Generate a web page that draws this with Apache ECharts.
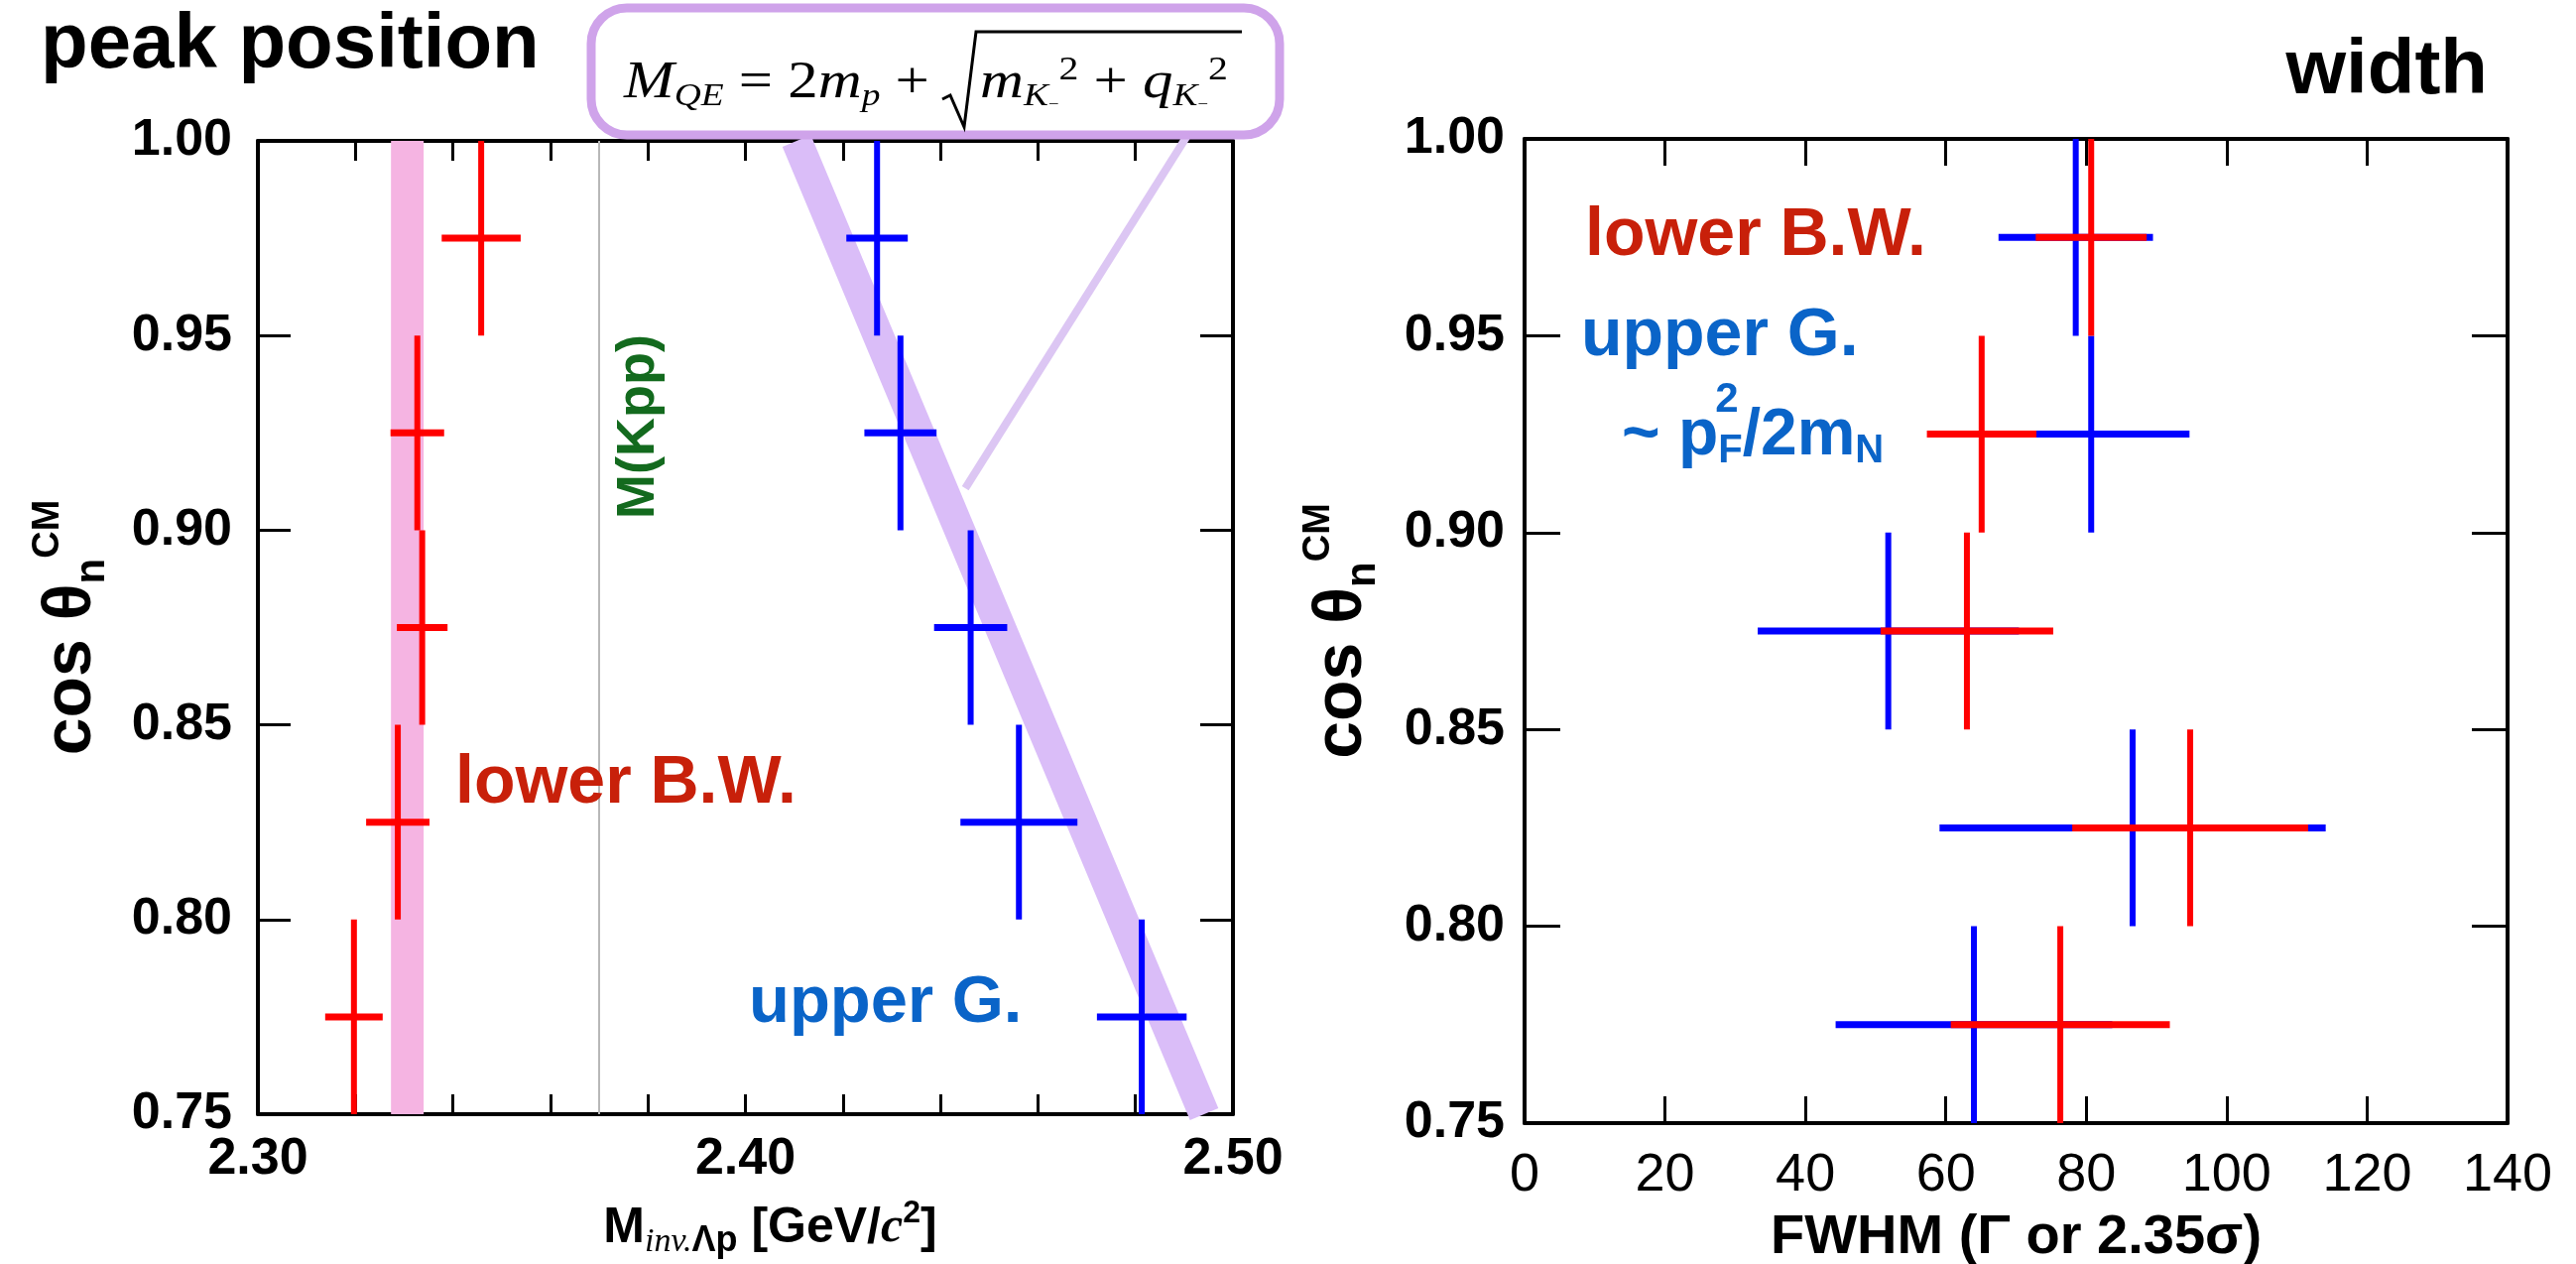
<!DOCTYPE html>
<html><head><meta charset="utf-8">
<script src="https://cdn.jsdelivr.net/npm/echarts/dist/echarts.min.js"></script>
<style>html,body{margin:0;padding:0;background:#fff}#c{width:2597px;height:1274px}</style>
</head><body><div id="c"></div>
<script>
// ---------- data ----------
const cosBins = [0.775, 0.825, 0.875, 0.925, 0.975];
const binHalf = [0.025, 0.025, 0.025, 0.025, 0.025];
// peak position [GeV/c^2]
const lowerBWPeak    = [2.3197, 2.3287, 2.3337, 2.3327, 2.3458];
const lowerBWPeakErr = [0.0059, 0.0065, 0.0052, 0.0055, 0.0081];
const upperGPeak     = [2.4813, 2.4561, 2.4462, 2.4318, 2.4270];
const upperGPeakErr  = [0.0092, 0.0120, 0.0075, 0.0074, 0.0063];
// width FWHM
const lowerBWWidth    = [76.3, 94.8, 63.0, 65.1, 80.7];
const lowerBWWidthErr = [15.6, 16.8, 12.3, 7.8, 7.9];
const upperGWidth     = [64.0, 86.6, 51.8, 80.7, 78.5];
const upperGWidthErr  = [19.7, 27.5, 18.6, 14.0, 11.0];
// reference lines / bands
const massKpp = 2.370;
const lowerBand = [2.3273, 2.3340];
const qeBandMass = [2.4105, 2.4941];
const qeBandCos  = [1.00, 0.75];
const connectorMass = [2.4906, 2.4451];
const connectorCos  = [1.0013, 0.9108];
// tick labels
const massLabels = ['2.30', '2.40', '2.50'];
const cosLabels = ['0.75', '0.80', '0.85', '0.90', '0.95', '1.00'];
const fwhmLabels = ['0', '20', '40', '60', '80', '100', '120', '140'];

// ---------- helpers ----------
const SANS = "'Liberation Sans', Arial, Helvetica, sans-serif";
const SERIF = "'Liberation Serif', 'Times New Roman', serif";
const RED = '#ff0000', BLUE = '#0000ff';

function crossSeries(name, xs, xerr, color, xi, yi, z) {
  return {
    type: 'custom', name, xAxisIndex: xi, yAxisIndex: yi, z,
    data: xs.map((x, i) => [x, cosBins[i], xerr[i], binHalf[i]]),
    renderItem: (params, api) => {
      const x = api.value(0), y = api.value(1), ex = api.value(2), ey = api.value(3);
      const l = api.coord([x - ex, y]), r = api.coord([x + ex, y]);
      const t = api.coord([x, y + ey]), b = api.coord([x, y - ey]);
      return { type: 'group', children: [
        { type: 'line', shape: { x1: l[0], y1: l[1], x2: r[0], y2: r[1] }, style: { stroke: color, lineWidth: 7 } },
        { type: 'line', shape: { x1: t[0], y1: t[1], x2: b[0], y2: b[1] }, style: { stroke: color, lineWidth: 6 } }
      ] };
    }
  };
}
const frame = { show: true, onZero: false, lineStyle: { color: '#000', width: 4 } };
function massFmt(v) { const k = Math.round(v * 100); const s = (k / 100).toFixed(2); return massLabels.includes(s) ? s : ''; }
function cosFmt(v) { const s = v.toFixed(2); return cosLabels.includes(s) ? s : ''; }
function fwhmFmt(v) { const s = String(Math.round(v)); return fwhmLabels.includes(s) ? s : ''; }

const cosAxisBase = { type: 'value', min: 0.75, max: 1.0, interval: 0.05, splitLine: { show: false }, axisLine: frame };
const cosName = '{m|cos θ}{n|n}{c|CM}';
const cosRich = {
  m: { fontSize: 68, fontWeight: 'bold', fontFamily: SANS, color: '#000', lineHeight: 84 },
  n: { fontSize: 42, fontWeight: 'bold', fontFamily: SANS, color: '#000', verticalAlign: 'bottom', lineHeight: 42 },
  c: { fontSize: 38, fontWeight: 'bold', fontFamily: SANS, color: '#000', verticalAlign: 'top', lineHeight: 38 }
};

const option = {
  animation: false,
  backgroundColor: '#fff',
  grid: [
    { left: 260, top: 142, width: 983, height: 981, outerBoundsMode: 'none', containLabel: false },
    { left: 1537, top: 140, width: 991, height: 992, outerBoundsMode: 'none', containLabel: false }
  ],
  xAxis: [
    { gridIndex: 0, type: 'value', position: 'bottom', min: 2.30, max: 2.50, interval: 0.02,
      splitLine: { show: false }, axisLine: frame,
      axisTick: { inside: true, length: 20, lineStyle: { color: '#000', width: 3 } },
      axisLabel: { formatter: massFmt, color: '#000', fontFamily: SANS, fontSize: 52, fontWeight: 'bold', margin: 20 },
      name: '{m|M}{s|inv.}{s2|Λp}{m| [GeV/}{i|c}{p|2}{m|]}', nameLocation: 'middle', nameGap: 84,
      nameTextStyle: { color: '#000', fontFamily: SANS, padding: [0, 0, 0, 50], rich: {
        m: { fontSize: 50, fontWeight: 'bold', fontFamily: SANS, color: '#000', lineHeight: 62 },
        s: { fontSize: 34, fontFamily: SERIF, fontStyle: 'italic', color: '#000', verticalAlign: 'bottom', lineHeight: 30 },
        s2: { fontSize: 36, fontFamily: SANS, fontWeight: 'bold', color: '#000', verticalAlign: 'bottom', lineHeight: 30 },
        i: { fontSize: 50, fontFamily: SERIF, fontStyle: 'italic', fontWeight: 'bold', color: '#000', lineHeight: 62 },
        p: { fontSize: 32, fontWeight: 'bold', fontFamily: SANS, color: '#000', verticalAlign: 'top', lineHeight: 32 }
      } } },
    { gridIndex: 0, type: 'value', position: 'top', min: 2.30, max: 2.50, interval: 0.02,
      splitLine: { show: false }, axisLine: frame, axisLabel: { show: false },
      axisTick: { inside: true, length: 20, lineStyle: { color: '#000', width: 3 } } },
    { gridIndex: 1, type: 'value', position: 'bottom', min: 0, max: 140, interval: 20,
      splitLine: { show: false }, axisLine: frame,
      axisTick: { inside: true, length: 27, lineStyle: { color: '#000', width: 3 } },
      axisLabel: { formatter: fwhmFmt, color: '#000', fontFamily: SANS, fontSize: 54, margin: 26 },
      name: 'FWHM (Γ or 2.35σ)', nameLocation: 'middle', nameGap: 88,
      nameTextStyle: { color: '#000', fontFamily: SANS, fontSize: 56, fontWeight: 'bold' } },
    { gridIndex: 1, type: 'value', position: 'top', min: 0, max: 140, interval: 20,
      splitLine: { show: false }, axisLine: frame, axisLabel: { show: false },
      axisTick: { inside: true, length: 27, lineStyle: { color: '#000', width: 3 } } }
  ],
  yAxis: [
    Object.assign({}, cosAxisBase, { gridIndex: 0, position: 'left',
      axisTick: { inside: true, length: 33, lineStyle: { color: '#000', width: 3 } },
      axisLabel: { formatter: cosFmt, color: '#000', fontFamily: SANS, fontSize: 52, fontWeight: 'bold', margin: 26 },
      name: cosName, nameLocation: 'middle', nameRotate: 90, nameGap: 146,
      nameTextStyle: { color: '#000', rich: cosRich } }),
    Object.assign({}, cosAxisBase, { gridIndex: 0, position: 'right', axisLabel: { show: false },
      axisTick: { inside: true, length: 33, lineStyle: { color: '#000', width: 3 } } }),
    Object.assign({}, cosAxisBase, { gridIndex: 1, position: 'left',
      axisTick: { inside: true, length: 36, lineStyle: { color: '#000', width: 3 } },
      axisLabel: { formatter: cosFmt, color: '#000', fontFamily: SANS, fontSize: 52, fontWeight: 'bold', margin: 20 },
      name: cosName, nameLocation: 'middle', nameRotate: 90, nameGap: 142,
      nameTextStyle: { color: '#000', rich: cosRich } }),
    Object.assign({}, cosAxisBase, { gridIndex: 1, position: 'right', axisLabel: { show: false },
      axisTick: { inside: true, length: 36, lineStyle: { color: '#000', width: 3 } } })
  ],
  series: [
    { type: 'line', name: 'QE band', xAxisIndex: 0, yAxisIndex: 0, z: 1, silent: true,
      data: qeBandMass.map((m, i) => [m, qeBandCos[i]]), symbol: 'none',
      lineStyle: { color: '#dabdf8', width: 31, cap: 'butt' },
      markArea: { silent: true, itemStyle: { color: '#f5b4e2', opacity: 1 },
        data: [[{ xAxis: lowerBand[0] }, { xAxis: lowerBand[1] }]] },
      markLine: { silent: true, symbol: ['none', 'none'], label: { show: false },
        lineStyle: { color: '#b8b8b8', width: 2, type: 'solid' }, data: [{ xAxis: massKpp }] } },
    { type: 'line', name: 'connector', xAxisIndex: 0, yAxisIndex: 0, z: 2, clip: false, silent: true,
      data: connectorMass.map((m, i) => [m, connectorCos[i]]), symbol: 'none',
      lineStyle: { color: '#dcc6f3', width: 8, cap: 'butt' } },
    crossSeries('lower B.W. peak', lowerBWPeak, lowerBWPeakErr, RED, 0, 0, 5),
    crossSeries('upper G. peak', upperGPeak, upperGPeakErr, BLUE, 0, 0, 5),
    crossSeries('upper G. width', upperGWidth, upperGWidthErr, BLUE, 2, 2, 5),
    crossSeries('lower B.W. width', lowerBWWidth, lowerBWWidthErr, RED, 2, 2, 6)
  ],
  graphic: [
    { type: 'text', x: 41, y: 46, style: { text: 'peak position', font: `bold 78px ${SANS}`, fill: '#000', align: 'left', verticalAlign: 'middle' } },
    { type: 'text', x: 2508, y: 72, style: { text: 'width', font: `bold 78px ${SANS}`, fill: '#000', align: 'right', verticalAlign: 'middle' } },
    { type: 'rect', shape: { x: 596, y: 8, width: 694, height: 128, r: 36 }, style: { fill: '#fff', stroke: '#cfa3ea', lineWidth: 9 }, z: 10 },
    { type: 'text', x: 629, y: 84, scaleX: 1.17, z: 11, style: { text: '{mi|M}{sb|QE}{n| = 2}{mi|m}{sb|p}{n| +}',
      align: 'left', verticalAlign: 'middle', fill: '#000', rich: {
        mi: { font: `italic 52px ${SERIF}`, fill: '#000', lineHeight: 60 },
        n: { font: `52px ${SERIF}`, fill: '#000', lineHeight: 60 },
        sb: { font: `italic 32px ${SERIF}`, fill: '#000', verticalAlign: 'bottom', lineHeight: 28 }
      } } },
    { type: 'polyline', z: 11, shape: { points: [[950, 100], [958, 96], [972, 128], [984, 32], [1252, 32]] }, style: { stroke: '#000', lineWidth: 3, fill: null } },
    { type: 'text', x: 988, y: 84, scaleX: 1.17, z: 11, style: { text: '{mi|m}{sb|K}{tn|−}{sp|2}{n| + }{mi|q}{sb|K}{tn|−}{sp|2}',
      align: 'left', verticalAlign: 'middle', fill: '#000', rich: {
        mi: { font: `italic 52px ${SERIF}`, fill: '#000', lineHeight: 60 },
        n: { font: `52px ${SERIF}`, fill: '#000', lineHeight: 60 },
        sb: { font: `italic 32px ${SERIF}`, fill: '#000', verticalAlign: 'bottom', lineHeight: 28 },
        tn: { font: `16px ${SERIF}`, fill: '#000', verticalAlign: 'bottom', lineHeight: 34 },
        sp: { font: `34px ${SERIF}`, fill: '#000', verticalAlign: 'top', lineHeight: 30 }
      } } },
    { type: 'text', x: 644, y: 430, rotation: Math.PI / 2, z: 8, style: { text: 'M(Kpp)', font: `bold 54px ${SANS}`, fill: '#136a1e', align: 'center', verticalAlign: 'middle' } },
    { type: 'text', x: 459, y: 790, z: 8, style: { text: 'lower B.W.', font: `bold 68px ${SANS}`, fill: '#c8200a', align: 'left', verticalAlign: 'middle' } },
    { type: 'text', x: 755, y: 1012, z: 8, style: { text: 'upper G.', font: `bold 67px ${SANS}`, fill: '#0a64c8', align: 'left', verticalAlign: 'middle' } },
    { type: 'text', x: 1598, y: 238, z: 8, style: { text: 'lower B.W.', font: `bold 68px ${SANS}`, fill: '#c8200a', align: 'left', verticalAlign: 'middle' } },
    { type: 'text', x: 1594, y: 339, z: 8, style: { text: 'upper G.', font: `bold 68px ${SANS}`, fill: '#0a64c8', align: 'left', verticalAlign: 'middle' } },
    { type: 'text', x: 1635, y: 440, z: 8, style: { text: '{n|~ p}{sb|F}{n|/2m}{sb|N}',
      align: 'left', verticalAlign: 'middle', rich: {
        n: { font: `bold 66px ${SANS}`, fill: '#0a64c8', lineHeight: 70 },
        sb: { font: `bold 40px ${SANS}`, fill: '#0a64c8', verticalAlign: 'bottom', lineHeight: 40 }
      } } },
    { type: 'text', x: 1741, y: 403, z: 8, style: { text: '2', font: `bold 42px ${SANS}`, fill: '#0a64c8', align: 'center', verticalAlign: 'middle' } }
  ]
};
const chart = echarts.init(document.getElementById('c'), null, { renderer: 'canvas' });
chart.setOption(option);
</script></body></html>
